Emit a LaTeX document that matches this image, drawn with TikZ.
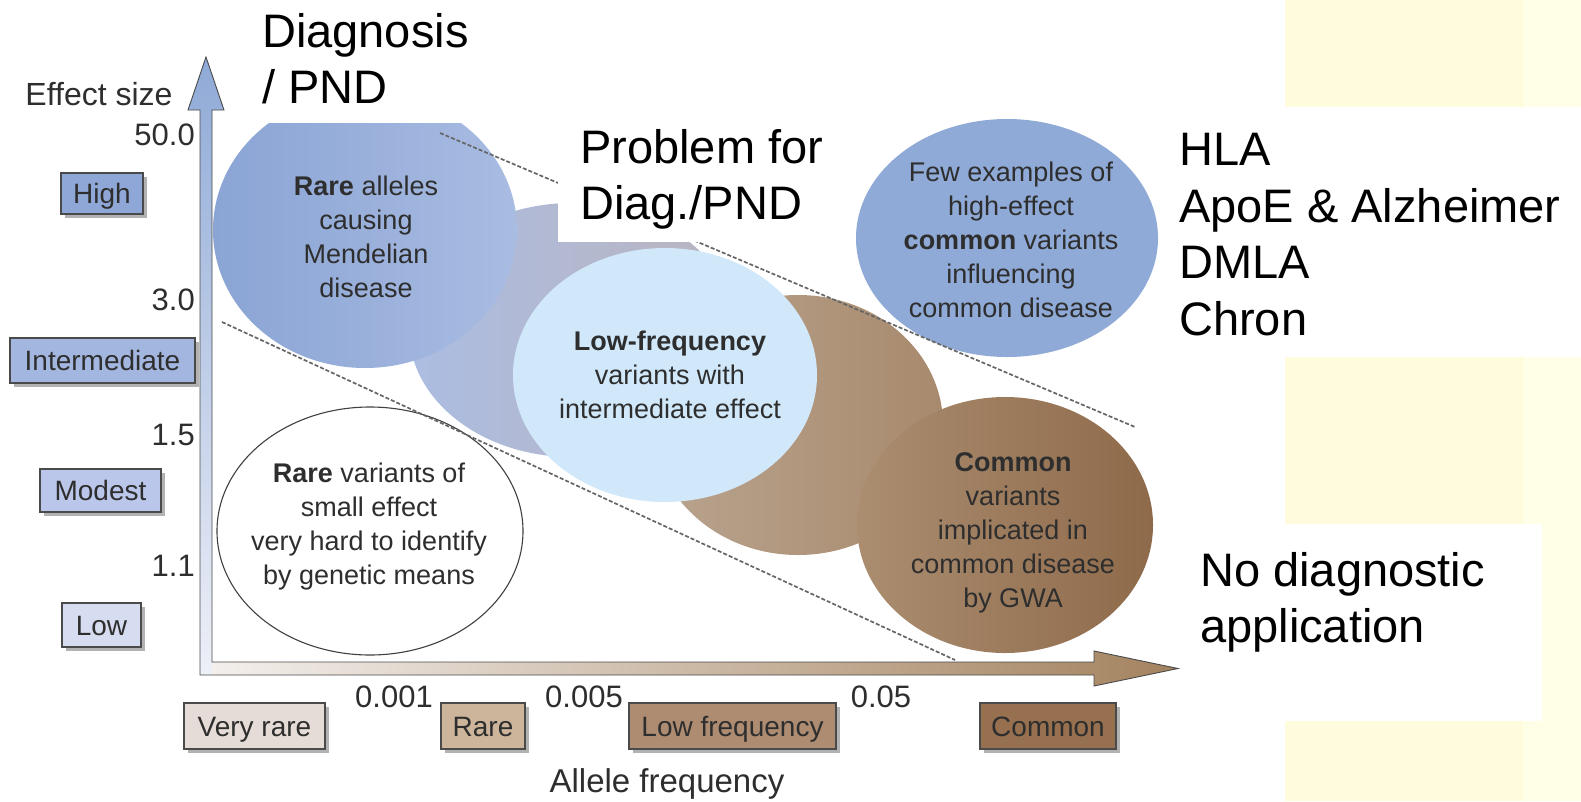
\documentclass[tikz,border=0pt]{standalone}
\usepackage{fontspec}
\setmainfont{Liberation Sans}
\usetikzlibrary{shadows}
\definecolor{ink}{HTML}{2E2E2E}
\definecolor{yel}{HTML}{FEFCDC}
\definecolor{yel2}{HTML}{FFFEE6}
\definecolor{bA}{HTML}{8AA4D4}
\definecolor{bB}{HTML}{A9BCE2}
\definecolor{bC}{HTML}{ABBDE2}
\definecolor{gC}{HTML}{BAB4BE}
\definecolor{lb}{HTML}{D0E8FA}
\definecolor{brA}{HTML}{B9A48F}
\definecolor{brB}{HTML}{A88A6D}
\definecolor{brC}{HTML}{AB8D70}
\definecolor{brD}{HTML}{8E6A4A}
\definecolor{bF}{HTML}{8FAAD7}
\definecolor{cHigh}{HTML}{8EA7D6}
\definecolor{cInt}{HTML}{A3B6E0}
\definecolor{cMod}{HTML}{BAC7EA}
\definecolor{cLow}{HTML}{D6DDF1}
\definecolor{cVR}{HTML}{E6DCD7}
\definecolor{cR}{HTML}{CDB59C}
\definecolor{cLF}{HTML}{AE8C72}
\definecolor{cC}{HTML}{96704F}
\definecolor{edge}{HTML}{4A4A4A}
\definecolor{axtop}{HTML}{8FAAD7}
\definecolor{axbot}{HTML}{EEF0F8}
\definecolor{axleft}{HTML}{F3EFEC}
\definecolor{axright}{HTML}{A4835F}
\tikzset{
  cat/.style={draw=edge, line width=1.4pt, inner sep=0pt, text=ink,
    font=\fontsize{28}{30}\selectfont, text height=20pt, text depth=0pt,
    drop shadow={shadow xshift=3.5pt, shadow yshift=-4pt, fill=black, opacity=0.3}},
  tick/.style={text=ink, inner sep=0pt, font=\fontsize{31}{33}\selectfont,
    text height=22pt, text depth=0pt},
  axtitle/.style={text=ink, inner sep=0pt, font=\fontsize{32}{34}\selectfont,
    text height=23pt, text depth=0pt},
  etext/.style={text=ink, inner sep=0pt, align=center,
    font=\fontsize{27}{34}\selectfont, anchor=north},
  big/.style={text=black, inner sep=0pt, align=left,
    font=\fontsize{47}{56.5}\selectfont, anchor=north west},
  dashline/.style={draw=black!60, line width=1.7pt, dash pattern=on 4pt off 2pt},
}
\begin{document}
\begin{tikzpicture}[x=1pt, y=-1pt]
\useasboundingbox (0,0) rectangle (1581,801);
\fill[white] (0,0) rectangle (1581,801);
% pale yellow slide background on the right
\fill[yel] (1285,0) rectangle (1581,801);
\fill[yel2] (1523,0) rectangle (1581,801);
\fill[white] (1160,107) rectangle (1581,357);
\fill[white] (1180,524) rectangle (1542,721);

% white outlined ellipse (rare variants of small effect)
\draw[draw=black!75, line width=1.1pt, fill=white] (370,531) ellipse (153 and 124);

% coloured ellipses
\shade[left color=bC, right color=gC] (572,330) ellipse (163 and 127);
\shade[left color=bA, right color=bB] (365,230) ellipse (152 and 138);
\shade[left color=brA, right color=brB] (798,425) ellipse (145 and 130);
\fill[lb] (665,375) ellipse (152 and 127);
\shade[left color=brC, right color=brD] (1005,525) ellipse (148 and 128);
\fill[bF] (1007,238) ellipse (151 and 119);

% dashed boundary lines
\coordinate (u1) at (440,133); \coordinate (u2) at (1135,427);
\coordinate (l1) at (222,322); \coordinate (l2) at (955,660);
\draw[dashline] (u1) -- (u2);
\draw[dashline] (l1) -- (l2);

% axes
\shade[top color=axtop, bottom color=axbot]
  (200,675) -- (200,110) -- (188,110) -- (206,57) -- (224,110) -- (212,110) -- (212,675) -- cycle;
\shade[left color=axleft, right color=axright]
  (212,662) -- (1094,662) -- (1094,651) -- (1178,668.5) -- (1094,686) -- (1094,675) -- (212,675) -- cycle;
\draw[edge, line width=0.9pt, line join=miter]
  (200,675) -- (200,110) -- (188,110) -- (206,57) -- (224,110) -- (212,110) -- (212,662)
  -- (1094,662) -- (1094,651) -- (1178,668.5) -- (1094,686) -- (1094,675) -- cycle;

% white boxes of the overlay texts
\fill[white] (245,0) rectangle (558,123);
\fill[white] (558,112) rectangle (845,242);

% effect size categories
\node[cat, fill=cHigh, minimum width=82pt, minimum height=41pt] (high) at (102,193.5) {High};
\node[cat, fill=cInt, minimum width=185pt, minimum height=45pt] (inter) at (102.5,360.5) {Intermediate};
\node[cat, fill=cMod, minimum width=121pt, minimum height=43pt] (modest) at (100.5,490.5) {Modest};
\node[cat, fill=cLow, minimum width=79pt, minimum height=44pt] (low) at (101.5,625) {Low};

% allele frequency categories
\node[cat, fill=cVR, minimum width=141pt, minimum height=46pt] (vrare) at (254.5,726) {Very rare};
\node[cat, fill=cR, minimum width=84pt, minimum height=46pt] (rare) at (483,726) {Rare};
\node[cat, fill=cLF, minimum width=207pt, minimum height=46pt] (lowf) at (732.5,726) {Low frequency};
\node[cat, fill=cC, minimum width=136pt, minimum height=46pt] (common) at (1048,726) {Common};

% tick values
\node[tick, anchor=east] (t50) at (195,134) {50.0};
\node[tick, anchor=east] (t30) at (195,299) {3.0};
\node[tick, anchor=east] (t15) at (195,434) {1.5};
\node[tick, anchor=east] (t11) at (195,565) {1.1};
\node[tick] (x001) at (394,696) {0.001};
\node[tick] (x005) at (584,696) {0.005};
\node[tick] (x05) at (881,696) {0.05};

% axis titles
\node[axtitle] (eff) at (99,94) {Effect size};
\node[axtitle, font=\fontsize{33}{35}\selectfont] (allele) at (667,781) {Allele frequency};

% ellipse texts
\node[etext] (tA) at (366,175.5) {\textbf{Rare} alleles\\causing\\Mendelian\\disease};
\node[etext] (tB) at (670,331) {\textbf{Low-frequency}\\variants with\\intermediate effect};
\node[etext] (tC) at (1011,161.5) {Few examples of\\high-effect\\\textbf{common} variants\\influencing\\common disease};
\node[etext] (tD) at (1013,452) {\textbf{Common}\\variants\\implicated in\\common disease\\by GWA};
\node[etext] (tE) at (369,463) {\textbf{Rare} variants of\\small effect\\very hard to identify\\by genetic means};

% overlay texts
\node[big, font=\fontsize{47}{56}\selectfont] (diag) at (262,13) {Diagnosis\\/ PND};
\node[big, font=\fontsize{47}{56}\selectfont] (prob) at (580,129) {Problem for\\Diag./PND};
\node[big] (hla) at (1179,133) {HLA\\ApoE \& Alzheimer\\DMLA\\Chron};
\node[big, font=\fontsize{47}{56}\selectfont] (nodiag) at (1200,552) {No diagnostic\\application};
\end{tikzpicture}
\end{document}
